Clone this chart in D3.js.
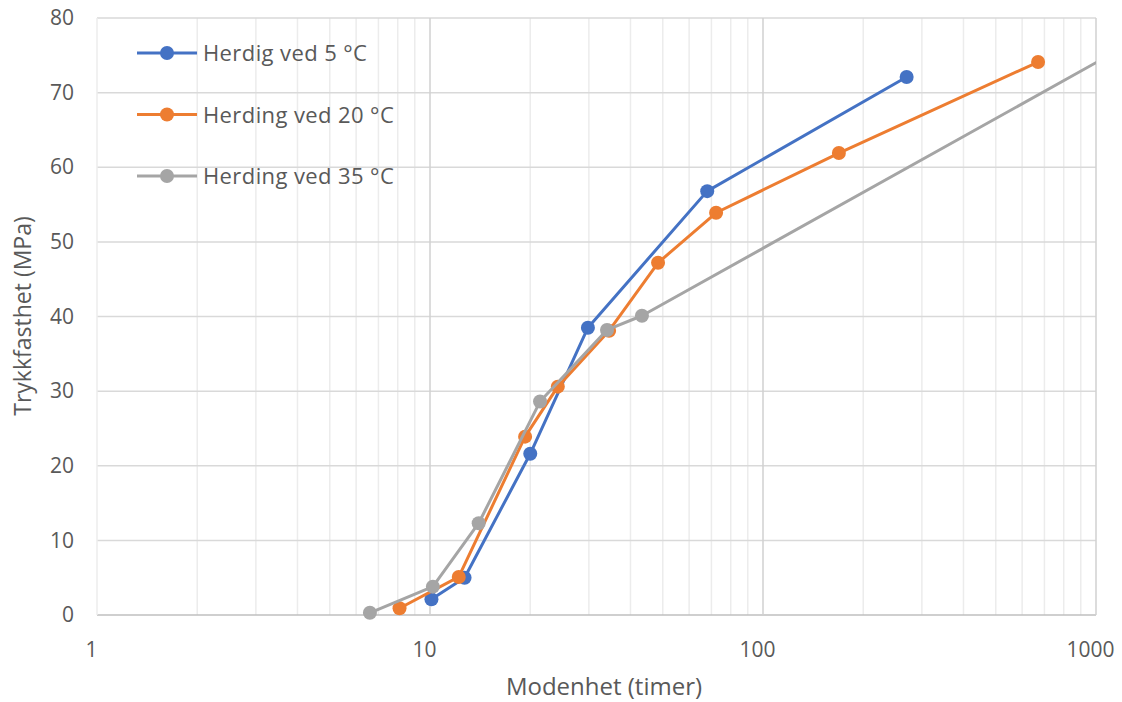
<!DOCTYPE html>
<html>
<head>
<meta charset="utf-8">
<script src="https://cdn.jsdelivr.net/npm/d3@7"></script>
<style>
  body { margin: 0; background: #fff; }
  text { font-family: "Open Sans", Lato, sans-serif; fill: #595959; }
</style>
</head>
<body>
<script>
// data
var seriesNames = ["Herdig ved 5 °C", "Herding ved 20 °C", "Herding ved 35 °C"];
var colors = ["#4472C4", "#ED7D31", "#A5A5A5"];

var x5 = [10.1, 12.7, 20, 29.8, 68, 270];
var y5 = [2.1, 5.0, 21.6, 38.5, 56.8, 72.1];

var x20 = [8.1, 12.2, 19.3, 24.2, 34.5, 48.4, 72.3, 169, 670];
var y20 = [0.9, 5.1, 23.9, 30.6, 38.1, 47.2, 53.9, 61.9, 74.1];

var x35 = [6.6, 10.2, 14.0, 21.4, 34.0, 43.3, 1500];
var y35 = [0.3, 3.8, 12.3, 28.6, 38.2, 40.1, 78.4];

var xTicks = [1, 10, 100, 1000];
var yTicks = [0, 10, 20, 30, 40, 50, 60, 70, 80];

var width = 1122, height = 702;
var pLeft = 97, pRight = 1096, pTop = 18, pBottom = 615;

var svg = d3.select("body")
  .append("svg")
  .attr("width", width)
  .attr("height", height);

var x = d3.scaleLog().domain([1, 1000]).range([pLeft, pRight]);
var y = d3.scaleLinear().domain([0, 80]).range([pBottom, pTop]);

// minor vertical grid
var minor = [];
[1, 10, 100].forEach(function(d) {
  for (var k = 2; k <= 9; k++) minor.push(d * k);
});
svg.append("g").selectAll("line")
  .data(minor)
  .enter()
  .append("line")
  .attr("x1", function(d) { return x(d); })
  .attr("x2", function(d) { return x(d); })
  .attr("y1", pTop).attr("y2", pBottom)
  .attr("stroke", "#ececec")
  .attr("stroke-width", 1.5);

// horizontal grid
svg.append("g").selectAll("line")
  .data(yTicks)
  .enter()
  .append("line")
  .attr("x1", pLeft).attr("x2", pRight)
  .attr("y1", function(d) { return y(d); })
  .attr("y2", function(d) { return y(d); })
  .attr("stroke", function(d) { return d === 0 ? "#bfbfbf" : "#d9d9d9"; })
  .attr("stroke-width", 1.5);

// major vertical grid
svg.append("g").selectAll("line")
  .data(xTicks)
  .enter()
  .append("line")
  .attr("x1", function(d) { return x(d); })
  .attr("x2", function(d) { return x(d); })
  .attr("y1", pTop).attr("y2", pBottom)
  .attr("stroke", function(d) { return d === 1 ? "#ececec" : "#d0d0d0"; })
  .attr("stroke-width", 1.5);

// axes labels via d3 axes (lines hidden)
var yAxis = svg.append("g")
  .attr("transform", "translate(" + (pLeft - 20) + ",0)")
  .call(d3.axisLeft(y).tickValues(yTicks).tickSize(0).tickFormat(d3.format("d")));
yAxis.select(".domain").remove();
yAxis.selectAll("text")
  .attr("font-size", "21px")
  .attr("font-family", "'Open Sans', sans-serif")
  .style("fill", "#595959");

var xAxis = svg.append("g")
  .attr("transform", "translate(-6," + (pBottom + 24) + ")")
  .call(d3.axisBottom(x).tickValues(xTicks).tickSize(0).tickFormat(d3.format("d")));
xAxis.select(".domain").remove();
xAxis.selectAll("text")
  .attr("font-size", "21px")
  .attr("font-family", "'Open Sans', sans-serif")
  .style("fill", "#595959");

svg.append("text")
  .attr("x", 604).attr("y", 695)
  .attr("text-anchor", "middle")
  .attr("font-size", "24px")
  .text("Modenhet (timer)");

svg.append("text")
  .attr("transform", "translate(31,316) rotate(-90)")
  .attr("text-anchor", "middle")
  .attr("font-size", "23px")
  .text("Trykkfasthet (MPa)");

// clip
svg.append("clipPath").attr("id", "plotclip")
  .append("rect")
  .attr("x", pLeft).attr("y", pTop - 10)
  .attr("width", pRight - pLeft).attr("height", pBottom - pTop + 20);

var series = [
  { name: seriesNames[0], xs: x5, ys: y5, color: colors[0] },
  { name: seriesNames[1], xs: x20, ys: y20, color: colors[1] },
  { name: seriesNames[2], xs: x35, ys: y35, color: colors[2] }
];

var line = d3.line()
  .x(function(d) { return x(d[0]); })
  .y(function(d) { return y(d[1]); });

var plot = svg.append("g").attr("clip-path", "url(#plotclip)");

series.forEach(function(s) {
  var pts = s.xs.map(function(v, i) { return [v, s.ys[i]]; });
  var g = plot.append("g");
  g.append("path")
    .datum(pts)
    .attr("d", line)
    .attr("fill", "none")
    .attr("stroke", s.color)
    .attr("stroke-width", 3)
    .attr("stroke-linejoin", "round");
  g.selectAll("circle")
    .data(pts)
    .enter()
    .append("circle")
    .attr("cx", function(d) { return x(d[0]); })
    .attr("cy", function(d) { return y(d[1]); })
    .attr("r", 7)
    .attr("fill", s.color);
});

// legend
var legend = svg.append("g");
series.forEach(function(s, i) {
  var ly = 53 + i * 61.5;
  legend.append("line")
    .attr("x1", 137).attr("x2", 197)
    .attr("y1", ly).attr("y2", ly)
    .attr("stroke", s.color)
    .attr("stroke-width", 3);
  legend.append("circle")
    .attr("cx", 167).attr("cy", ly).attr("r", 7)
    .attr("fill", s.color);
  legend.append("text")
    .attr("x", 203).attr("y", ly + 8)
    .attr("font-size", "22px")
    .attr("letter-spacing", "0.4px")
    .text(s.name);
});
</script>
</body>
</html>
